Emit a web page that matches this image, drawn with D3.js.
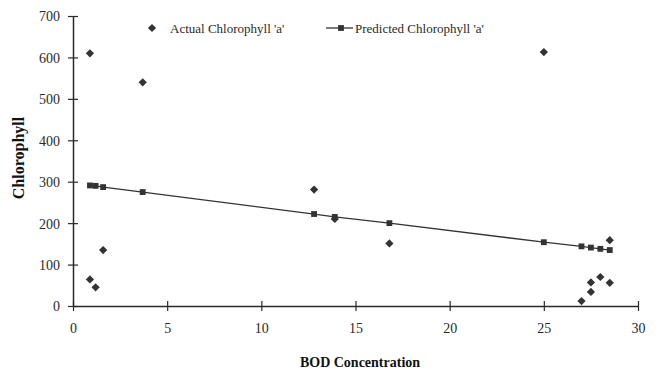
<!DOCTYPE html>
<html>
<head>
<meta charset="utf-8">
<script src="https://cdn.jsdelivr.net/npm/d3@7/dist/d3.min.js"></script>
<style>
  html, body { margin: 0; padding: 0; background: #fff; }
  svg { display: block; }
</style>
</head>
<body>
<svg id="chart" width="660" height="370"></svg>
<script>
// ---- Data ----
const actualX = [0.9, 0.9, 1.2, 1.6, 3.7, 12.8, 13.9, 16.8, 25.0, 27.0, 27.5, 27.5, 28.0, 28.5, 28.5];
const actualY = [610, 64, 45, 135, 540, 281, 210, 151, 613, 12, 34, 57, 70, 56, 159];
const predX = [0.9, 1.2, 1.6, 3.7, 12.8, 13.9, 16.8, 25.0, 27.0, 27.5, 28.0, 28.5];
const predY = [291, 290, 287, 275, 222, 215, 200, 154, 144, 141, 138, 135];
const xTicks = [0, 5, 10, 15, 20, 25, 30];
const yTicks = [0, 100, 200, 300, 400, 500, 600, 700];
const seriesNames = ["Actual Chlorophyll 'a'", "Predicted Chlorophyll 'a'"];
const xTitle = "BOD Concentration";
const yTitle = "Chlorophyll";

(function () {
// ---- Layout ----
const svg = d3.select("#chart");
const mLeft = 73, mRight = 638, mTop = 16, mBottom = 306;
const font = "'Liberation Serif', 'Times New Roman', serif";
const ink = "#2a2a2a";

const x = d3.scaleLinear().domain([0, 30]).range([mLeft, mRight]);
const y = d3.scaleLinear().domain([0, 700]).range([mBottom, mTop]);

// Axes
const xAxis = d3.axisBottom(x).tickValues(xTicks).tickSizeOuter(0).tickFormat(d3.format("d"));
const gx = svg.append("g").attr("transform", `translate(0,${mBottom})`).call(xAxis);
gx.select(".domain").attr("stroke", ink).attr("stroke-width", 1.5);
gx.selectAll(".tick line").attr("y1", -5).attr("y2", 5).attr("stroke", ink).attr("stroke-width", 1.2);
gx.selectAll(".tick text").attr("y", 22).attr("dy", "0.35em")
  .attr("font-family", font).attr("font-size", 14).attr("fill", ink);

const yAxis = d3.axisLeft(y).tickValues(yTicks).tickSizeOuter(0).tickFormat(d3.format("d"));
const gy = svg.append("g").attr("transform", `translate(${mLeft},0)`).call(yAxis);
gy.select(".domain").attr("stroke", ink).attr("stroke-width", 1.5);
gy.selectAll(".tick line").attr("x1", -5).attr("x2", 5).attr("stroke", ink).attr("stroke-width", 1.2);
gy.selectAll(".tick text").attr("x", -13).attr("dy", "0.35em")
  .attr("font-family", font).attr("font-size", 14).attr("fill", ink);
svg.selectAll(".domain").attr("fill", "none");

// Axis titles
svg.append("text").attr("x", 360).attr("y", 362).attr("dy", "0.35em")
  .attr("text-anchor", "middle").attr("font-family", font).attr("font-size", 14)
  .attr("font-weight", "bold").attr("fill", "#111").text(xTitle);
svg.append("text").attr("transform", "translate(18,158) rotate(-90)").attr("dy", "0.35em")
  .attr("text-anchor", "middle").attr("font-family", font).attr("font-size", 16)
  .attr("font-weight", "bold").attr("fill", "#111").text(yTitle);

// Predicted line + squares
const predData = predX.map((v, i) => ({ x: v, y: predY[i] }));
const line = d3.line().x(d => x(d.x)).y(d => y(d.y));
svg.append("path").datum(predData).attr("d", line)
  .attr("fill", "none").attr("stroke", "#333").attr("stroke-width", 1.3);
const sq = d3.symbol().type(d3.symbolSquare).size(34);
svg.selectAll(".pred").data(predData).enter().append("path")
  .attr("class", "pred").attr("d", sq)
  .attr("transform", d => `translate(${x(d.x)},${y(d.y)})`).attr("fill", "#333");

// Actual diamonds
const actualData = actualX.map((v, i) => ({ x: v, y: actualY[i] }));
const diamond = d3.symbol().type(d3.symbolSquare).size(34);
svg.selectAll(".act").data(actualData).enter().append("path")
  .attr("class", "act").attr("d", diamond)
  .attr("transform", d => `translate(${x(d.x)},${y(d.y)}) rotate(45)`).attr("fill", "#333");

// Legend
const lg = svg.append("g");
lg.append("path").attr("d", diamond).attr("transform", "translate(152,28) rotate(45)").attr("fill", "#333");
lg.append("text").attr("x", 170).attr("y", 28).attr("dy", "0.35em")
  .attr("font-family", font).attr("font-size", 13).attr("fill", ink).text(seriesNames[0]);
lg.append("line").attr("x1", 326).attr("x2", 353).attr("y1", 28).attr("y2", 28)
  .attr("stroke", "#333").attr("stroke-width", 1.3);
lg.append("path").attr("d", sq).attr("transform", "translate(341,28)").attr("fill", "#333");
lg.append("text").attr("x", 355).attr("y", 28).attr("dy", "0.35em")
  .attr("font-family", font).attr("font-size", 13).attr("fill", ink).text(seriesNames[1]);
})();
</script>
</body>
</html>
